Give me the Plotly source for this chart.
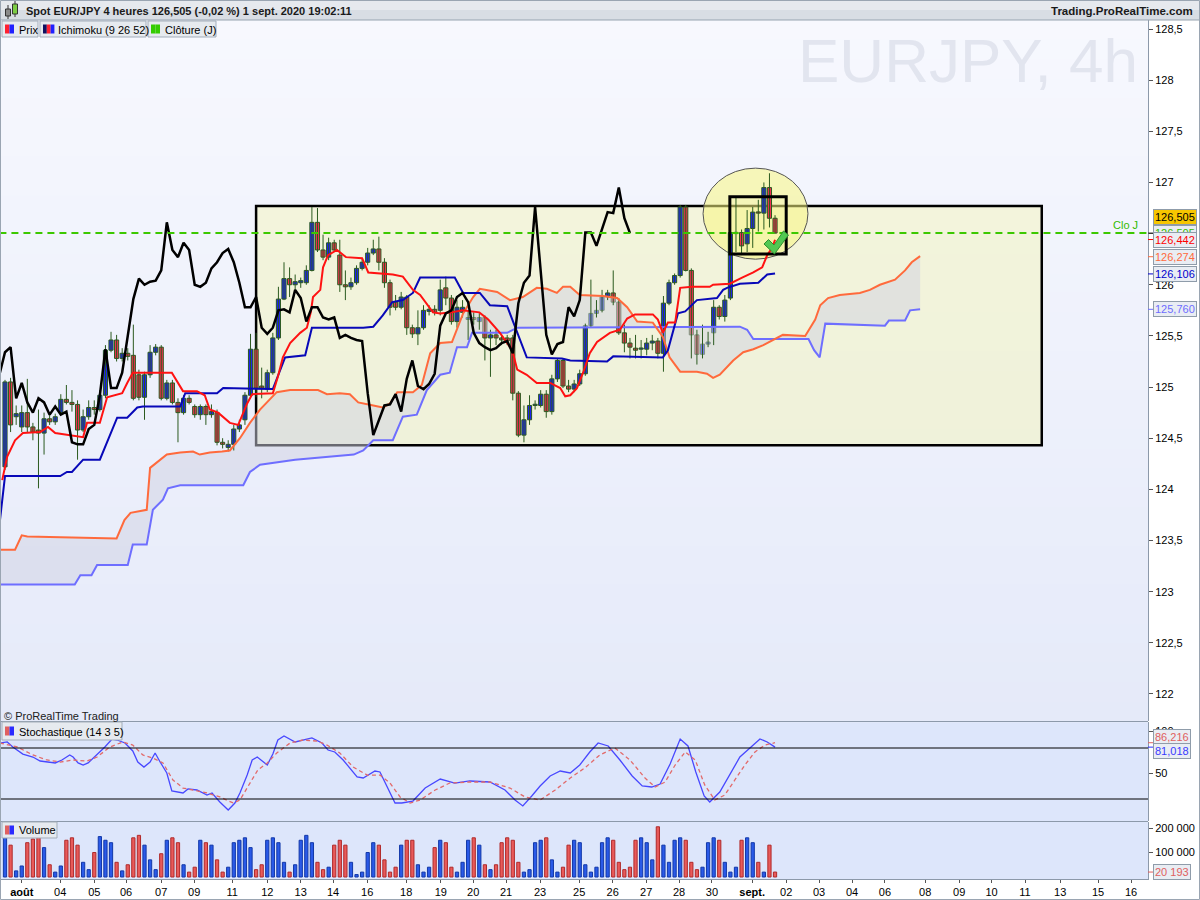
import plotly.graph_objects as go

# ---------------- DATA ----------------
opens = [124.22, 125.05, 124.71, 124.61, 124.75, 124.61, 124.58, 124.55, 124.69, 124.66,
         124.75, 124.88, 124.85, 124.83, 124.58, 124.71, 124.80, 124.78, 124.92, 125.36,
         125.46, 125.28, 125.33, 125.31, 125.12, 124.90, 125.12, 125.34, 125.39, 124.89,
         125.04, 124.85, 124.75, 124.89, 124.81, 124.73, 124.81, 124.73, 124.75, 124.46,
         124.41, 124.44, 124.59, 124.68, 124.92, 125.37, 125.01, 124.98, 125.14, 125.48,
         125.86, 126.06, 126.00, 126.02, 126.02, 126.14, 126.61, 126.34, 126.27, 126.41,
         126.29, 126.00, 125.98, 126.02, 126.16, 126.22, 126.31, 126.35, 126.22, 126.02,
         125.83, 125.78, 125.88, 125.58, 125.52, 125.58, 125.74, 125.76, 125.75, 125.97,
         125.87, 125.64, 125.73, 125.66, 125.68, 125.64, 125.68, 125.48, 125.51, 125.48,
         125.48, 125.48, 124.94, 124.53, 124.68, 124.82, 124.82, 124.93, 124.76, 125.08,
         125.26, 125.01, 124.98, 125.03, 125.13, 125.60, 125.72, 125.75, 125.88, 125.92,
         125.83, 125.53, 125.43, 125.38, 125.37, 125.37, 125.43, 125.45, 125.33, 125.82,
         126.02, 126.09, 126.76, 126.14, 125.51, 125.32, 125.42, 125.53, 125.78, 125.69,
         125.87, 126.50, 126.51, 126.40, 126.55, 126.71, 126.70, 126.95, 126.65]
highs = [125.07, 125.09, 124.82, 124.82, 125.08, 124.65, 124.78, 124.75, 124.73, 124.74,
         124.93, 125.02, 124.97, 124.87, 124.78, 124.87, 124.87, 124.97, 125.41, 125.54,
         125.51, 125.38, 125.38, 125.61, 125.17, 125.15, 125.41, 125.42, 125.41, 125.07,
         125.07, 124.89, 124.92, 124.92, 124.83, 124.83, 124.83, 124.83, 124.78, 124.50,
         124.48, 124.63, 124.68, 124.95, 125.52, 125.53, 125.19, 125.17, 125.53, 125.98,
         126.22, 126.17, 126.10, 126.07, 126.19, 126.76, 126.75, 126.49, 126.46, 126.44,
         126.44, 126.14, 126.07, 126.19, 126.26, 126.36, 126.44, 126.47, 126.26, 126.05,
         125.90, 125.93, 125.90, 125.61, 125.75, 125.80, 125.80, 125.80, 126.05, 126.08,
         125.90, 125.85, 125.85, 125.75, 125.73, 125.72, 125.70, 125.56, 125.56, 125.51,
         125.51, 125.51, 124.96, 124.82, 124.92, 124.87, 124.97, 124.97, 125.12, 125.28,
         125.28, 125.07, 125.07, 125.17, 125.62, 126.05, 125.85, 125.95, 125.95, 126.14,
         125.87, 125.61, 125.48, 125.51, 125.46, 125.48, 125.51, 125.48, 125.89, 126.05,
         126.11, 126.78, 126.78, 126.16, 125.56, 125.61, 125.54, 125.85, 125.80, 125.90,
         126.52, 126.86, 126.54, 126.73, 126.76, 126.83, 127.00, 127.09, 126.68]
lows = [124.19, 124.56, 124.63, 124.56, 124.56, 124.48, 124.01, 124.34, 124.63, 124.63,
        124.73, 124.83, 124.76, 124.29, 124.56, 124.68, 124.73, 124.76, 124.89, 125.34,
        125.25, 125.25, 125.26, 124.87, 124.87, 124.68, 125.09, 125.31, 124.87, 124.87,
        124.83, 124.46, 124.73, 124.83, 124.70, 124.68, 124.63, 124.70, 124.43, 124.40,
        124.37, 124.38, 124.56, 124.63, 124.89, 124.90, 124.89, 124.95, 125.12, 125.46,
        125.85, 125.88, 125.95, 125.97, 126.00, 126.13, 126.32, 126.24, 126.24, 126.32,
        125.93, 125.85, 125.95, 126.00, 126.14, 126.19, 126.29, 126.14, 125.97, 125.70,
        125.75, 125.76, 125.51, 125.48, 125.41, 125.56, 125.70, 125.70, 125.70, 125.80,
        125.61, 125.58, 125.68, 125.46, 125.61, 125.56, 125.26, 125.10, 125.41, 125.41,
        125.41, 124.87, 124.51, 124.46, 124.63, 124.78, 124.80, 124.70, 124.73, 125.05,
        124.99, 124.95, 124.95, 125.01, 125.11, 125.58, 125.68, 125.73, 125.85, 125.80,
        125.51, 125.34, 125.28, 125.28, 125.28, 125.31, 125.36, 125.28, 125.15, 125.80,
        126.00, 126.07, 126.13, 125.28, 125.22, 125.28, 125.39, 125.41, 125.66, 125.64,
        125.85, 126.32, 126.29, 126.32, 126.36, 126.52, 126.54, 126.56, 126.50]
closes = [125.05, 124.63, 124.74, 124.75, 124.61, 124.56, 124.55, 124.69, 124.66, 124.71,
          124.88, 124.85, 124.83, 124.58, 124.71, 124.80, 124.78, 124.92, 125.36, 125.46,
          125.28, 125.33, 125.30, 124.89, 124.90, 125.12, 125.34, 125.39, 124.89, 125.04,
          124.85, 124.75, 124.89, 124.85, 124.73, 124.81, 124.73, 124.76, 124.46, 124.44,
          124.44, 124.59, 124.63, 124.92, 125.37, 124.99, 124.99, 125.14, 125.48, 125.86,
          126.06, 126.00, 126.03, 126.04, 126.14, 126.61, 126.34, 126.27, 126.41, 126.34,
          126.00, 125.98, 126.02, 126.16, 126.22, 126.31, 126.35, 126.22, 126.02, 125.78,
          125.78, 125.88, 125.58, 125.52, 125.58, 125.75, 125.76, 125.73, 125.95, 125.87,
          125.64, 125.78, 125.78, 125.68, 125.66, 125.68, 125.48, 125.51, 125.48, 125.46,
          125.45, 124.94, 124.53, 124.68, 124.82, 124.83, 124.93, 124.76, 125.08, 125.26,
          125.01, 124.98, 125.03, 125.13, 125.60, 125.72, 125.75, 125.88, 125.92, 125.83,
          125.53, 125.43, 125.39, 125.36, 125.38, 125.43, 125.45, 125.33, 125.82, 126.02,
          126.09, 126.76, 126.14, 125.51, 125.32, 125.42, 125.44, 125.78, 125.69, 125.85,
          126.51, 126.51, 126.38, 126.55, 126.71, 126.70, 126.95, 126.65, 126.505]
volumes = [160000, 130000, 25000, 45000, 140000, 155000, 165000, 120000, 50000, 20000,
           45000, 150000, 160000, 130000, 60000, 30000, 100000, 165000, 150000, 140000,
           60000, 25000, 50000, 160000, 170000, 130000, 70000, 30000, 95000, 150000,
           160000, 140000, 50000, 20000, 40000, 150000, 140000, 130000, 70000, 20000,
           40000, 140000, 150000, 160000, 120000, 30000, 50000, 150000, 160000, 140000,
           60000, 20000, 50000, 150000, 170000, 140000, 60000, 30000, 40000, 130000,
           150000, 130000, 60000, 10000, 20000, 100000, 140000, 130000, 70000, 20000,
           40000, 130000, 150000, 150000, 50000, 20000, 40000, 120000, 150000, 140000,
           40000, 20000, 60000, 150000, 160000, 130000, 50000, 30000, 50000, 140000,
           160000, 150000, 60000, 20000, 30000, 140000, 150000, 160000, 70000, 20000,
           40000, 130000, 150000, 140000, 50000, 20000, 40000, 140000, 160000, 150000,
           60000, 30000, 40000, 150000, 160000, 140000, 70000, 205000, 130000, 60000,
           150000, 160000, 150000, 60000, 30000, 40000, 140000, 160000, 150000, 60000,
           20000, 40000, 150000, 160000, 140000, 60000, 20000, 130000, 20193]

# Ichimoku lines (bar index, price)
tenkan_x = [-0.5, 0.4, 1.8, 3.2, 6.3, 7.7, 9, 12, 14, 14.7, 17, 18.3, 21, 21.9, 22.9, 29.9, 31.9, 34.4,
            35.8, 36.7, 38.2, 40.3, 41.8, 43.4, 44.3, 48, 48.9, 49.8, 51.1, 52.9, 54.1, 54.8, 55.2,
            56.5, 57, 57.9, 59.5, 61.1, 64, 65.1, 67.2, 69.5, 71.3, 73.1, 74.4, 76.7, 78, 80, 82, 85,
            86.6, 88.7, 90.9, 91.8, 93.5, 95.3, 97.7, 99.5, 100.4, 101.3, 102.5, 103.6, 104.8, 106.1,
            108.4, 110.2, 111.5, 112.9, 116.1, 117, 117.9, 118.8, 120.1, 121, 123.1, 126.3, 126.9,
            129.9, 132.1, 134.1, 135.7, 136.6, 137.5, 138]
tenkan_y = [124.09, 124.32, 124.48, 124.55, 124.56, 124.61, 124.55, 124.53, 124.51, 124.65, 124.65,
            124.90, 124.94, 125.04, 125.14, 125.14, 124.96, 124.96, 124.92, 124.78, 124.75, 124.65,
            124.63, 124.84, 124.93, 124.94, 125.10, 125.29, 125.43, 125.53, 125.58, 125.73, 125.88,
            125.95, 126.17, 126.29, 126.34, 126.27, 126.26, 126.12, 126.11, 126.10, 126.08, 125.95,
            125.90, 125.73, 125.72, 125.73, 125.75, 125.73, 125.66, 125.53, 125.36, 125.17, 125.12,
            125.04, 125.04, 124.99, 124.91, 124.92, 124.99, 125.14, 125.33, 125.44, 125.53, 125.56,
            125.67, 125.71, 125.71, 125.66, 125.53, 125.63, 125.63, 125.97, 125.98, 125.98, 126.00,
            126.01, 126.07, 126.12, 126.17, 126.29, 126.36, 126.44]
kijun_x = [-0.9, 0, 9.9, 11.1, 12, 14, 17, 20.1, 21.9, 23.7, 24.7, 31.4, 32.3, 38, 39.1, 48, 50.2,
           53.8, 55, 64.2, 66, 67.7, 69.4, 71.3, 73.1, 74.4, 80.6, 82.1, 85.1, 86.9, 90, 91.8, 93.5,
           99.8, 101.3, 107.9, 109, 117.9, 118.8, 120.6, 121.9, 124, 125.8, 127.6, 128.7, 129.4,
           131.7, 135, 136.6, 138]
kijun_y = [123.70, 124.13, 124.13, 124.17, 124.17, 124.29, 124.29, 124.70, 124.70, 124.80, 124.81,
           124.81, 124.94, 124.94, 124.99, 124.98, 125.29, 125.31, 125.58, 125.58, 125.59, 125.70,
           125.83, 125.85, 125.92, 126.07, 126.07, 125.92, 125.92, 125.80, 125.79, 125.54, 125.29,
           125.28, 125.26, 125.25, 125.30, 125.29, 125.36, 125.72, 125.74, 125.85, 125.86, 125.87,
           125.95, 125.97, 126.01, 126.02, 126.10, 126.11]
spanA_x = [-0.9, 1.8, 3, 4, 20, 21.4, 22.5, 25.4, 26, 29, 31.4, 33.7, 34.9, 36.7, 38.9, 40.3, 42.1,
           43.9, 45.7, 48.7, 51.1, 56.1, 57.7, 60, 61.8, 63.3, 66, 67.7, 69, 70.3, 73.1, 74.7, 76.2,
           78, 80.1, 82.1, 83.9, 85.1, 88.2, 90.5, 92.8, 95.3, 97.1, 98.9, 100, 101.3, 103, 107.2,
           109.7, 111.5, 113.3, 116.1, 117.9, 119.1, 121, 124, 125.8, 126.9, 128.1, 130.5, 132.3,
           134.1, 135.9, 137.6, 139.4, 143.4, 145.2, 146.1, 147.5, 149.6, 153.2, 155, 156.8, 159.5,
           161.3, 162.5, 164]
spanA_y = [123.41, 123.41, 123.55, 123.54, 123.52, 123.70, 123.77, 123.80, 124.21, 124.34, 124.36,
           124.37, 124.34, 124.36, 124.37, 124.38, 124.50, 124.65, 124.78, 124.95, 124.97, 124.97,
           124.93, 124.94, 124.93, 124.85, 124.82, 124.80, 124.84, 124.95, 124.95, 125.02, 125.33,
           125.43, 125.44, 125.72, 125.88, 125.96, 125.93, 125.85, 125.88, 125.97, 125.96, 125.92,
           125.98, 125.98, 125.90, 125.89, 125.87, 125.78, 125.64, 125.63, 125.49, 125.29, 125.15,
           125.15, 125.13, 125.09, 125.12, 125.26, 125.34, 125.37, 125.41, 125.46, 125.51, 125.50,
           125.66, 125.80, 125.87, 125.90, 125.92, 125.95, 126.00, 126.05, 126.14, 126.22, 126.28]
spanB_x = [-0.9, 12.5, 13.5, 15.5, 16.5, 22, 22.9, 25.4, 26.5, 28.3, 29.2, 31.4, 42.7, 43.9, 45.7,
           52, 62.5, 64.2, 66, 69.5, 71.3, 73.8, 75.6, 78, 79.7, 81, 82.8, 83.7, 90, 91.8, 131.7,
           133, 134.1, 144, 145, 146, 147, 157.7, 158.4, 161.3, 162.2, 164]
spanB_y = [123.07, 123.07, 123.16, 123.16, 123.26, 123.26, 123.46, 123.46, 123.80, 123.90, 124.01,
           124.04, 124.04, 124.17, 124.24, 124.29, 124.34, 124.38, 124.48, 124.48, 124.71, 124.73,
           124.97, 125.12, 125.14, 125.39, 125.39, 125.53, 125.53, 125.58, 125.59, 125.56, 125.47,
           125.47, 125.36, 125.29, 125.62, 125.60, 125.65, 125.65, 125.75, 125.76]

# Stochastic (14 3 5)
stochK_x = [-0.9, 0.4, 1.4, 3.2, 5, 6.3, 9, 10.2, 11.6, 12.2, 13.1, 14, 14.9, 16.5, 17.9, 19.2, 20.1,
            21.5, 22.9, 23.8, 24.9, 26, 26.9, 27.8, 29, 29.9, 31.9, 32.8, 34.4, 36.2, 37.1, 38.5, 40,
            41.2, 42.1, 43.4, 44.3, 45.2, 47, 48, 48.9, 50, 52, 55, 56.8, 57.9, 59.1, 60.6, 63.1, 64.2,
            66.3, 67.2, 69.4, 69.9, 71.1, 73.1, 75.3, 78, 80.6, 83.3, 86.9, 89.6, 91.4, 92.8, 94.4,
            95.9, 97.7, 99.5, 101.3, 103, 104.8, 106.3, 108.1, 110.2, 112.4, 114.2, 115.9, 117.4,
            119.2, 121, 122.4, 123.8, 125.3, 126.3, 128.1, 129.9, 131.7, 133.5, 135.3, 136.6, 138]
stochK_y = [85.9, 87.1, 81.2, 72.9, 69.4, 64.7, 62.4, 65.9, 71.8, 69.4, 62.4, 60, 62.4, 71.8, 81.2,
            90.6, 89.4, 85.9, 76.5, 63.5, 57.6, 63.5, 74.1, 63.5, 50.6, 29.4, 27.1, 31.8, 30.6, 24.7,
            27.1, 16.5, 7.1, 15.3, 27.1, 48.2, 65.9, 69.4, 60, 72.9, 89.4, 94.1, 87.1, 91.8, 85.9,
            77.6, 75.3, 65.9, 45.9, 44.7, 52.9, 51.8, 21.2, 15.3, 15.3, 17.6, 32.9, 43.5, 38.8, 41.2,
            40, 30.6, 18.8, 11.8, 23.5, 35.3, 47.1, 52.9, 50.6, 60, 75.3, 85.9, 82.4, 65.9, 47.1,
            35.3, 34.1, 37.6, 61.2, 90.6, 82.4, 51.8, 23.5, 16.5, 28.2, 49.4, 69.4, 80, 90.6, 87.1,
            81.018]
stochD_x = [-0.9, 2.2, 5, 7.5, 9.9, 12.2, 14.7, 16.5, 18.8, 21.1, 22.9, 24.7, 26.5, 28.3, 30.1, 31.9,
            33.7, 36.2, 38.5, 40.9, 42.1, 43.9, 45.3, 47, 48.7, 51.1, 53.4, 55.9, 57.7, 60, 62.4, 64.9,
            67.2, 69, 70.8, 72.6, 74.4, 77.1, 79.7, 83.3, 86.9, 90.5, 93.2, 95.9, 98.6, 101.3, 103.9,
            106.6, 109.3, 112, 114.7, 116.5, 118.3, 120.1, 121.9, 123.7, 125.4, 127.2, 129, 130.8,
            132.6, 134.4, 136.2, 138]
stochD_y = [85.9, 81.2, 71.8, 65.9, 63.5, 65.9, 64.7, 69.4, 81.2, 87.1, 83.5, 71.8, 68.2, 62.4, 42.4,
            32.9, 30.6, 27.1, 22.4, 15.3, 18.8, 38.8, 54.1, 62.4, 74.1, 85.9, 89.4, 88.2, 83.5, 74.1,
            57.6, 48.2, 48.2, 38.8, 22.4, 15.3, 18.8, 30.6, 38.8, 40, 40, 32.9, 22.4, 18.8, 30.6,
            44.7, 56.5, 71.8, 80, 65.9, 44.7, 34.1, 40, 60, 75.3, 65.9, 36.5, 18.8, 24.7, 42.4, 60,
            75.3, 83.5, 86.216]

date_tick_idx = [3.0, 9.9, 16.0, 21.7, 28.0, 33.9, 40.7, 47.0, 53.0, 58.8, 64.9, 71.9, 78.1, 83.9,
                 89.8, 95.9, 102.9, 108.9, 114.9, 120.8, 126.7, 133.9, 140.0, 145.9, 151.8, 157.7,
                 164.9, 171.0, 176.8, 182.8, 189.1, 195.9, 201.8]
date_labels = ['<b>août</b>', '04', '05', '06', '07', '09', '11', '12', '13', '14', '16', '18', '19',
               '20', '21', '23', '25', '26', '27', '28', '30', '<b>sept.</b>', '02', '03', '04', '06',
               '08', '09', '10', '11', '13', '15', '16']
price_ticks = [122.0, 122.5, 123.0, 123.5, 124.0, 124.5, 125.0, 125.5, 126.0, 126.5, 127.0, 127.5,
               128.0, 128.5]
price_labels = ['122', '122,5', '123', '123,5', '124', '124,5', '125', '125,5', '126', '126,5', '127',
                '127,5', '128', '128,5']
close_day = 126.505

# ---------------- FIGURE ----------------
FONT = "Liberation Sans, Arial, sans-serif"
BODY_UP = "#1f23ee"
BODY_DN = "#ee3150"
EDGE = "#2b5a1f"
VOL_UP = "#2a5ae8"
VOL_DN = "#e85a5a"

n = len(closes)
idx = list(range(n))
up = [closes[i] >= opens[i] for i in idx]


def PX(x):
    return (x - 1) / 1147.0


def PY(y):
    return (879 - y) / 859.0


fig = go.Figure()

# cloud fill
fig.add_trace(go.Scatter(x=spanA_x + spanB_x[::-1], y=spanA_y + spanB_y[::-1], fill='toself',
                         fillcolor='rgba(208,210,226,0.5)', line=dict(width=0), mode='lines',
                         hoverinfo='skip', xaxis='x', yaxis='y'))

# wicks
wx, wy = [], []
for i in idx:
    wx += [i, i, None]
    wy += [min(lows[i], opens[i], closes[i]), max(highs[i], opens[i], closes[i]), None]
fig.add_trace(go.Scatter(x=wx, y=wy, mode='lines', line=dict(color=EDGE, width=1),
                         hoverinfo='skip', xaxis='x', yaxis='y'))

# bodies
fig.add_trace(go.Bar(x=idx, base=[min(opens[i], closes[i]) for i in idx],
                     y=[max(abs(closes[i] - opens[i]), 0.012) for i in idx], width=0.74,
                     marker=dict(color=[BODY_UP if u else BODY_DN for u in up],
                                 line=dict(color=EDGE, width=1)),
                     xaxis='x', yaxis='y'))

# ichimoku lines
fig.add_trace(go.Scatter(x=spanB_x, y=spanB_y, mode='lines', line=dict(color='#6e6eff', width=2),
                         xaxis='x', yaxis='y'))
fig.add_trace(go.Scatter(x=spanA_x, y=spanA_y, mode='lines', line=dict(color='#ff6a3c', width=2),
                         xaxis='x', yaxis='y'))
fig.add_trace(go.Scatter(x=kijun_x, y=kijun_y, mode='lines', line=dict(color='#0808b8', width=2),
                         xaxis='x', yaxis='y'))
fig.add_trace(go.Scatter(x=tenkan_x, y=tenkan_y, mode='lines', line=dict(color='#ff1212', width=2),
                         xaxis='x', yaxis='y'))
# chikou = closes plotted 26 bars back
fig.add_trace(go.Scatter(x=list(range(-1, n - 26)), y=closes[25:], mode='lines',
                         line=dict(color='#000000', width=2.5), xaxis='x', yaxis='y'))
# daily close dashed line
fig.add_trace(go.Scatter(x=[-1, 210], y=[close_day, close_day], mode='lines',
                         line=dict(color='#3cc800', width=2, dash='7px,5px'), xaxis='x', yaxis='y'))

# stochastic
fig.add_trace(go.Scatter(x=stochK_x, y=stochK_y, mode='lines', line=dict(color='#4848ff', width=1.3),
                         xaxis='x', yaxis='y2'))
fig.add_trace(go.Scatter(x=stochD_x, y=stochD_y, mode='lines',
                         line=dict(color='#e26a6a', width=1.3, dash='4px,3px'), xaxis='x', yaxis='y2'))

# volume
fig.add_trace(go.Bar(x=idx, y=volumes, width=0.58,
                     marker=dict(color=[VOL_UP if u else VOL_DN for u in up],
                                 line=dict(color=['#1238a8' if u else '#b02a2a' for u in up], width=1)),
                     xaxis='x', yaxis='y3'))

shapes = []
# main panel background gradient
N = 36
top = (247, 248, 254)
bot = (229, 234, 249)
for k in range(N):
    t = k / (N - 1)
    c = tuple(round(top[j] + (bot[j] - top[j]) * t) for j in range(3))
    shapes.append(dict(type='rect', xref='x domain', yref='y domain', x0=0, x1=1,
                       y0=1 - (k + 1) / N - 0.002, y1=1 - k / N, fillcolor='rgb(%d,%d,%d)' % c,
                       line=dict(width=0), layer='below'))
# yellow range box
shapes.append(dict(type='rect', xref='x', yref='y', x0=45, x1=185.8, y0=124.43, y1=126.77,
                   fillcolor='rgba(245,245,165,0.38)', line=dict(color='black', width=2.5),
                   layer='below'))
# ellipse
shapes.append(dict(type='circle', xref='x', yref='y', x0=125.1, x1=143.9, y0=126.25, y1=127.14,
                   fillcolor='rgba(248,246,130,0.55)', line=dict(color='#555555', width=1),
                   layer='below'))
# small square
shapes.append(dict(type='rect', xref='x', yref='y', x0=129.9, x1=140.0, y0=126.30, y1=126.86,
                   line=dict(color='black', width=3), layer='above'))
# check mark (drawn in pixel space of the figure)
chk = [(764, 244), (768.5, 239.5), (774, 245), (783.5, 231), (788.5, 235), (774.5, 254)]
path = 'M ' + ' L '.join('%.5f,%.5f' % (PX(a), PY(b)) for a, b in chk) + ' Z'
shapes.append(dict(type='path', xref='paper', yref='paper', path=path, fillcolor='#52c852',
                   line=dict(color='#2f8f2f', width=1), layer='above'))
# stochastic 80 / 20 lines
for lv in (80, 20):
    shapes.append(dict(type='line', xref='x domain', yref='y2', x0=0, x1=1, y0=lv, y1=lv,
                       line=dict(color='black', width=1)))
# header bar
shapes.append(dict(type='rect', xref='paper', yref='paper', x0=PX(0), x1=PX(1200), y0=PY(10),
                   y1=PY(0), fillcolor='#e6e9ee', line=dict(width=0)))
shapes.append(dict(type='rect', xref='paper', yref='paper', x0=PX(0), x1=PX(1200), y0=PY(20),
                   y1=PY(10), fillcolor='#d8dde4', line=dict(width=0)))
shapes.append(dict(type='line', xref='paper', yref='paper', x0=PX(0), x1=PX(1200), y0=PY(20),
                   y1=PY(20), line=dict(color='#97a3b0', width=1)))
# header candle icon
shapes.append(dict(type='line', xref='paper', yref='paper', x0=PX(8), x1=PX(8), y0=PY(19), y1=PY(5),
                   line=dict(color='#333', width=1)))
shapes.append(dict(type='rect', xref='paper', yref='paper', x0=PX(5.5), x1=PX(10.5), y0=PY(16),
                   y1=PY(9), fillcolor='#8a8a8a', line=dict(color='#333', width=1)))
shapes.append(dict(type='line', xref='paper', yref='paper', x0=PX(15), x1=PX(15), y0=PY(17), y1=PY(1),
                   line=dict(color='#333', width=1)))
shapes.append(dict(type='rect', xref='paper', yref='paper', x0=PX(12.5), x1=PX(17.5), y0=PY(14),
                   y1=PY(4), fillcolor='#7ccc44', line=dict(color='#333', width=1)))
# panel separators
for yy in (721.5, 821.5):
    shapes.append(dict(type='line', xref='paper', yref='paper', x0=PX(0), x1=PX(1148), y0=PY(yy),
                       y1=PY(yy), line=dict(color='#8c99aa', width=1)))
# legend boxes and icons
def box(x0, x1, y0, y1, fill='#e6eaef'):
    shapes.append(dict(type='rect', xref='paper', yref='paper', x0=PX(x0), x1=PX(x1), y0=PY(y1),
                       y1=PY(y0), fillcolor=fill, line=dict(color='#a3adb9', width=1)))


def icon(x0, y0, colors, w=4.5, h=9):
    for k, col in enumerate(colors):
        shapes.append(dict(type='rect', xref='paper', yref='paper', x0=PX(x0 + k * w),
                           x1=PX(x0 + (k + 1) * w), y0=PY(y0 + h), y1=PY(y0), fillcolor=col,
                           line=dict(width=0)))


box(2, 38, 21, 37)
icon(5, 24.5, ['#ff2030', '#2020ff'])
box(40, 146, 21, 37)
icon(43, 24.5, ['#101060', '#ff2030', '#2020ff'], w=3.8)
box(148, 216, 21, 37)
icon(151, 24.5, ['#33cc00', '#33cc00'])
box(2, 122, 722, 740)
icon(5, 726.5, ['#e06060', '#2a2aff'])
box(2, 57, 822, 838)
icon(5, 825.5, ['#e06060', '#2a2aff'])
# right-axis value ticks
for val, col in ((126.442, '#ff0000'), (126.274, '#ff6a3c'), (126.106, '#0000cc'),
                 (125.76, '#6e6eff'), (close_day, '#222222')):
    shapes.append(dict(type='line', xref='paper', yref='y', x0=PX(1148), x1=PX(1153), y0=val, y1=val,
                       line=dict(color=col, width=1)))
shapes.append(dict(type='line', xref='paper', yref='y2', x0=PX(1148), x1=PX(1153), y0=86.216,
                   y1=86.216, line=dict(color='#e06060', width=1)))
shapes.append(dict(type='line', xref='paper', yref='y2', x0=PX(1148), x1=PX(1153), y0=81.018,
                   y1=81.018, line=dict(color='#2a2aff', width=1)))
shapes.append(dict(type='line', xref='paper', yref='y3', x0=PX(1148), x1=PX(1153), y0=20193,
                   y1=20193, line=dict(color='#e06060', width=1)))
# outer frame
shapes.append(dict(type='rect', xref='paper', yref='paper', x0=PX(0.5), x1=PX(1199.5), y0=PY(899.5),
                   y1=PY(0.5), line=dict(color='#9aa5b2', width=1)))

ann = []


def text(x, y, s, size=11, color='black', xanchor='left', yanchor='middle', **kw):
    ann.append(dict(xref='paper', yref='paper', x=PX(x), y=PY(y), text=s, showarrow=False,
                    xanchor=xanchor, yanchor=yanchor, font=dict(family=FONT, size=size, color=color),
                    **kw))


text(24, 10.5, '<b>Spot EUR/JPY 4 heures 126,505 (-0,02 %) 1 sept. 2020 19:02:11</b>', size=11,
     color='#1a1a1a')
text(1195, 10.5, '<b>Trading.ProRealTime.com</b>', size=11.5, color='#1a1a1a', xanchor='right')
text(17, 29.5, 'Prix')
text(56, 29.5, 'Ichimoku (9 26 52)')
text(163, 29.5, 'Clôture (J)')
text(17, 731.5, 'Stochastique (14 3 5)')
text(17, 830, 'Volume')
text(2, 716, '© ProRealTime Trading', color='#202020')
text(1140, 60, 'EURJPY, 4h', size=62, color='#e2e5ef', xanchor='right')
text(1140, 225, 'Clo J', color='#33bb00', xanchor='right')


def vlabel(yref, val, s, col, bg='#e9edf3', shift=0):
    ann.append(dict(xref='paper', yref=yref, x=PX(1153), y=val, text=s, showarrow=False,
                    xanchor='left', yanchor='middle', yshift=shift, bgcolor=bg,
                    bordercolor='#8f9caa', borderwidth=1, borderpad=1,
                    font=dict(family=FONT, size=11, color=col)))


vlabel('y', close_day, '126,505', '#33bb00')
vlabel('y', close_day, '126,505', '#000000', bg='#f7c600', shift=16)
vlabel('y', 126.442, '126,442', '#ff0000')
vlabel('y', 126.274, '126,274', '#ff6a3c')
vlabel('y', 126.106, '126,106', '#0000cc')
vlabel('y', 125.76, '125,760', '#6e6eff')
vlabel('y2', 86.216, '86,216', '#e06060', shift=6)
vlabel('y2', 81.018, '81,018', '#3a3aff', shift=-4)
vlabel('y3', 20193, '20 193', '#e06060')

axis_common = dict(showgrid=False, zeroline=False, showline=True, linecolor='#8c99aa',
                   ticks='outside', ticklen=4, tickcolor='#555555',
                   tickfont=dict(family=FONT, size=11, color='black'))

fig.update_layout(
    width=1200, height=900,
    margin=dict(l=1, r=52, t=20, b=21, autoexpand=False),
    paper_bgcolor='white', plot_bgcolor='#dde6fb',
    showlegend=False, barmode='overlay', hovermode=False,
    font=dict(family=FONT, size=11, color='black'),
    xaxis=dict(range=[-0.717, 204.84], domain=[0, 1], anchor='y3', tickvals=date_tick_idx,
               ticktext=date_labels, **{**axis_common, 'ticklen': 3}),
    yaxis=dict(domain=[PY(721), 1.0], range=[121.7356, 128.588], side='right', anchor='x',
               tickvals=price_ticks, ticktext=price_labels, **axis_common),
    yaxis2=dict(domain=[PY(821), PY(722)], range=[-5.88, 110.59], side='right', anchor='x',
                tickvals=[50, 100], ticktext=['50', '100'], **axis_common),
    yaxis3=dict(domain=[0, PY(822)], range=[-8163, 224490], side='right', anchor='x',
                tickvals=[100000, 200000], ticktext=['100 000', '200 000'], **axis_common),
    shapes=shapes,
    annotations=ann,
)

fig.write_html("out.html", config={'displayModeBar': False},
               post_script="document.body.style.margin='0';document.body.style.padding='0';"
                           "document.body.style.overflow='hidden';")
